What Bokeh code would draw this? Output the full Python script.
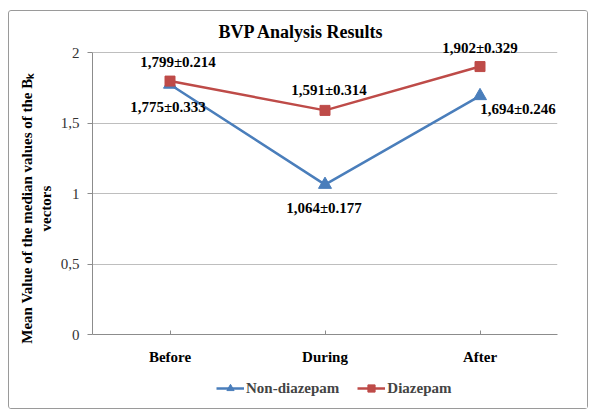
from bokeh.plotting import figure
from bokeh.layouts import column
from bokeh.models import (ColumnDataSource, LabelSet, Legend, LegendItem,
                          FixedTicker, Range1d, FactorRange, LinearAxis)
from bokeh.embed import file_html
from bokeh.resources import INLINE

# ---- data ----
categories = ["Before", "During", "After"]
non_diazepam_mean = [1.775, 1.064, 1.694]
non_diazepam_sd = [0.333, 0.177, 0.246]
diazepam_mean = [1.799, 1.591, 1.902]
diazepam_sd = [0.214, 0.314, 0.329]
y_ticks = [0, 0.5, 1, 1.5, 2]
y_tick_labels = ["0", "0,5", "1", "1,5", "2"]
series_names = ["Non-diazepam", "Diazepam"]

# ---- styles (label offsets in px) ----
non_dx = [-2, -1, 38]
non_dy = [-23, -23, -13]
dia_dx = [8, 4, 0]
dia_dy = [19, 20, 19]

BLUE = "#4a7ebb"
RED = "#be4b48"
FONT = "Liberation Serif"
NB = "\u00a0"


def fmt(m, s):
    return f"{m:.3f}".replace(".", ",") + "\u00b1" + f"{s:.3f}"


src_non = ColumnDataSource(dict(
    x=categories, y=non_diazepam_mean,
    label=[fmt(m, s) for m, s in zip(non_diazepam_mean, non_diazepam_sd)],
    dx=non_dx, dy=non_dy))
src_dia = ColumnDataSource(dict(
    x=categories, y=diazepam_mean,
    label=[fmt(m, s) for m, s in zip(diazepam_mean, diazepam_sd)],
    dx=dia_dx, dy=dia_dy))

p = figure(x_range=FactorRange(*categories, range_padding=0),
           y_range=Range1d(0, 2.08),
           width=578, height=359,
           output_backend="svg", toolbar_location=None,
           min_border_left=83, min_border_right=30,
           min_border_top=30, min_border_bottom=36)
p.outline_line_color = None
p.background_fill_color = "white"
p.border_fill_color = "white"

p.title.text = "BVP Analysis Results"
p.title.align = "left"
p.title.text_font = FONT
p.title.text_font_size = "18px"
p.title.text_font_style = "bold"
p.title.text_color = "black"
p.title.offset = 126
p.title.standoff = 0

# axes
p.yaxis.bounds = (y_ticks[0], y_ticks[-1])
p.yaxis.ticker = FixedTicker(ticks=y_ticks)
p.yaxis.major_label_overrides = {t: l for t, l in zip(y_ticks, y_tick_labels)}
p.yaxis.minor_tick_line_color = None
p.yaxis.major_tick_out = 5
p.yaxis.major_tick_in = 0
p.yaxis.axis_line_color = "#8c8c8c"
p.yaxis.major_tick_line_color = "#8c8c8c"
p.yaxis.major_label_text_font = FONT
p.yaxis.major_label_text_font_size = "15px"
p.yaxis.major_label_text_color = "#333333"
p.yaxis.major_label_standoff = 8
p.yaxis.axis_label = "vectors" + NB * 11
p.yaxis.axis_label_text_font = FONT
p.yaxis.axis_label_text_font_size = "15px"
p.yaxis.axis_label_text_font_style = "bold"
p.yaxis.axis_label_text_color = "black"
p.yaxis.axis_label_standoff = 4

# second (bare) axis that carries the first line of the y title
title_axis = LinearAxis(axis_label="Mean Value of the median values of the  B\u2096" + NB * 10,
                        ticker=FixedTicker(ticks=[]),
                        axis_line_color=None, major_tick_line_color=None,
                        minor_tick_line_color=None,
                        major_label_text_font_size="0px",
                        axis_label_text_font=FONT,
                        axis_label_text_font_size="15px",
                        axis_label_text_font_style="bold",
                        axis_label_text_color="black",
                        axis_label_standoff=0)
p.add_layout(title_axis, "left")

p.xaxis.major_tick_out = 0
p.xaxis.major_tick_in = 4
p.xaxis.axis_line_color = "#8c8c8c"
p.xaxis.major_tick_line_color = "#8c8c8c"
p.xaxis.major_label_text_font = FONT
p.xaxis.major_label_text_font_size = "15px"
p.xaxis.major_label_text_font_style = "bold"
p.xaxis.major_label_text_color = "black"
p.xaxis.major_label_standoff = 14

p.xgrid.visible = False
p.ygrid.grid_line_color = "#bebebe"
p.ygrid.grid_line_width = 1
p.ygrid.ticker = FixedTicker(ticks=y_ticks)

# series
p.line("x", "y", source=src_non, line_color=BLUE, line_width=2.5)
p.scatter("x", "y", source=src_non, marker="triangle", size=13,
          fill_color=BLUE, line_color=BLUE)
p.line("x", "y", source=src_dia, line_color=RED, line_width=2.5)
p.scatter("x", "y", source=src_dia, marker="square", size=10,
          fill_color=RED, line_color=RED)

for src in (src_non, src_dia):
    labels = LabelSet(x="x", y="y", text="label", source=src,
                      x_offset="dx", y_offset="dy",
                      text_align="center", text_baseline="middle",
                      text_font=FONT, text_font_size="15px",
                      text_font_style="bold", text_color="black")
    p.add_layout(labels)

# ---- legend strip below the chart (series drawn off-view, only legend shows) ----
leg_fig = figure(width=578, height=38,
                 x_range=FactorRange(*categories, range_padding=0),
                 y_range=Range1d(10, 11),
                 output_backend="svg", toolbar_location=None,
                 x_axis_location=None, y_axis_location=None,
                 min_border_left=83, min_border_right=30,
                 min_border_top=0, min_border_bottom=0)
leg_fig.outline_line_color = None
leg_fig.xgrid.visible = False
leg_fig.ygrid.visible = False
ln = leg_fig.line("x", "y", source=src_non, line_color=BLUE, line_width=2.5)
sn = leg_fig.scatter("x", "y", source=src_non, marker="triangle", size=11,
                     fill_color=BLUE, line_color=BLUE)
ld = leg_fig.line("x", "y", source=src_dia, line_color=RED, line_width=2.5)
sd = leg_fig.scatter("x", "y", source=src_dia, marker="square", size=8,
                     fill_color=RED, line_color=RED)
legend = Legend(items=[
    LegendItem(label=series_names[0], renderers=[ln, sn]),
    LegendItem(label=series_names[1], renderers=[ld, sd]),
], orientation="horizontal", location=(124, 11))
legend.border_line_color = None
legend.background_fill_alpha = 0
legend.label_text_font = FONT
legend.label_text_font_size = "15px"
legend.label_text_font_style = "bold"
legend.glyph_width = 28
legend.glyph_height = 18
legend.label_standoff = 2
legend.spacing = 18
legend.padding = 0
legend.margin = 0
leg_fig.add_layout(legend)

layout = column(p, leg_fig, spacing=0)
layout.styles = {"border": "1px solid #9a9a9a", "border-radius": "3px",
                 "margin-left": "8px", "margin-top": "10px"}

open("out.html", "w").write(file_html(layout, INLINE))
